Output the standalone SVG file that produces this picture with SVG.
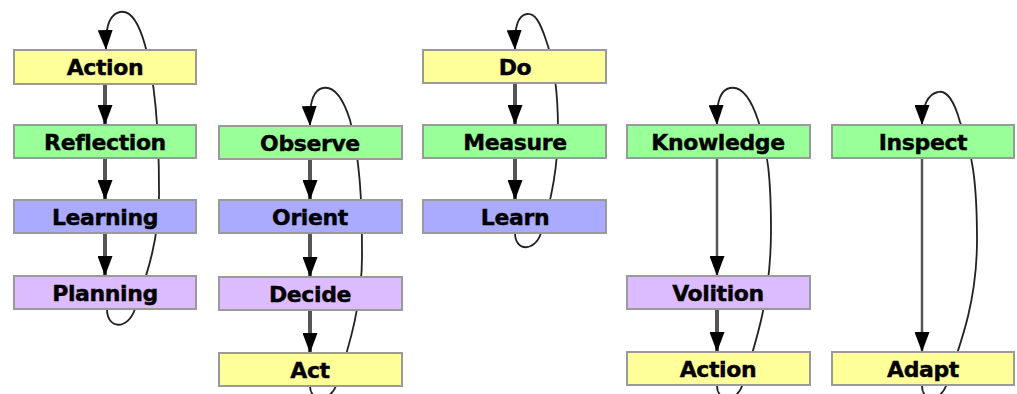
<svg xmlns="http://www.w3.org/2000/svg" width="1017" height="394" viewBox="0 0 1017 394">
<style>
.box{stroke:#9a9a9a;stroke-width:2}
.y{fill:#ffff99}.g{fill:#99ff99}.b{fill:#aaaaff}.p{fill:#ddbbff}
.lbl{font-family:"DejaVu Sans",Verdana,sans-serif;font-weight:bold;font-size:22px;letter-spacing:-0.4px;fill:#000;stroke:#000;stroke-width:0.4;text-anchor:middle}
.step{stroke:#555;stroke-width:4;fill:none;marker-end:url(#ah)}
.long{stroke-width:2.5}
.loop{stroke:#222;stroke-width:1.8;fill:none;marker-end:url(#ah)}
</style>
<defs>
<marker id="ah" markerUnits="userSpaceOnUse" viewBox="0 0 20 15" markerWidth="20" markerHeight="15" refX="20" refY="7.5" orient="auto">
<path d="M0,0 L20,7.5 L0,15 z" fill="#000"/>
</marker>
</defs>
<rect width="1017" height="394" fill="#fff"/>
<g id="connectors">
<path class="loop" d="M107,309 C107,330 128,330 135,309 C145,280 160,240 159,190 C159,130 155,80 145,45 C138,20 130,10 120,12 C110,14 105,26 106,50"/>
<path class="step" d="M105,84 L105,125"/>
<path class="step" d="M105,158 L105,200"/>
<path class="step" d="M105,233 L105,276"/>
<path class="loop" d="M310,386 C310,402 330,402 336,386 C350,345 363,300 362,250 C362,200 360,160 350,120 C342,95 333,86 323,88 C313,90 309,102 310,126"/>
<path class="step" d="M310,159 L310,200"/>
<path class="step" d="M310,233 L310,277"/>
<path class="step" d="M310,310 L310,353"/>
<path class="loop" d="M515,233 C515,252 535,252 541,233 C550,205 558,170 558,130 C558,95 555,65 546,40 C540,22 535,13 527,14 C518,15 514,26 515,50"/>
<path class="step" d="M515,83 L515,125"/>
<path class="step" d="M515,158 L515,200"/>
<path class="loop" d="M717,386 C717,402 737,402 742,386 C755,345 771,300 771,230 C771,180 768,150 758,120 C750,96 740,86 730,88 C720,90 716,102 717,125"/>
<path class="step long" d="M717,158 L717,276"/>
<path class="step" d="M717,309 L717,352"/>
<path class="loop" d="M922,386 C922,402 940,402 946,386 C962,340 977,300 977,240 C977,180 972,150 960,122 C954,100 946,90 938,92 C928,94 922,106 922,125"/>
<path class="step long" d="M922,158 L922,352"/>
</g>
<g id="n-action1"><rect class="box y" x="14" y="50" width="182" height="34"/><text class="lbl" x="105" y="75">Action</text></g>
<g id="n-reflection"><rect class="box g" x="14" y="125" width="182" height="33"/><text class="lbl" x="105" y="150">Reflection</text></g>
<g id="n-learning"><rect class="box b" x="14" y="200" width="182" height="33"/><text class="lbl" x="105" y="225">Learning</text></g>
<g id="n-planning"><rect class="box p" x="14" y="276" width="182" height="33"/><text class="lbl" x="105" y="301">Planning</text></g>
<g id="n-observe"><rect class="box g" x="219" y="126" width="183" height="33"/><text class="lbl" x="310" y="151">Observe</text></g>
<g id="n-orient"><rect class="box b" x="219" y="200" width="183" height="33"/><text class="lbl" x="310" y="225">Orient</text></g>
<g id="n-decide"><rect class="box p" x="219" y="277" width="183" height="33"/><text class="lbl" x="310" y="302">Decide</text></g>
<g id="n-act"><rect class="box y" x="219" y="353" width="183" height="33"/><text class="lbl" x="310" y="378">Act</text></g>
<g id="n-do"><rect class="box y" x="423" y="50" width="183" height="33"/><text class="lbl" x="515" y="75">Do</text></g>
<g id="n-measure"><rect class="box g" x="423" y="125" width="183" height="33"/><text class="lbl" x="515" y="150">Measure</text></g>
<g id="n-learn"><rect class="box b" x="423" y="200" width="183" height="33"/><text class="lbl" x="515" y="225">Learn</text></g>
<g id="n-knowledge"><rect class="box g" x="627" y="125" width="183" height="33"/><text class="lbl" x="718" y="150">Knowledge</text></g>
<g id="n-volition"><rect class="box p" x="627" y="276" width="183" height="33"/><text class="lbl" x="718" y="301">Volition</text></g>
<g id="n-action2"><rect class="box y" x="627" y="352" width="183" height="33"/><text class="lbl" x="718" y="377">Action</text></g>
<g id="n-inspect"><rect class="box g" x="832" y="125" width="182" height="33"/><text class="lbl" x="923" y="150">Inspect</text></g>
<g id="n-adapt"><rect class="box y" x="832" y="352" width="182" height="33"/><text class="lbl" x="923" y="377">Adapt</text></g>
</svg>
